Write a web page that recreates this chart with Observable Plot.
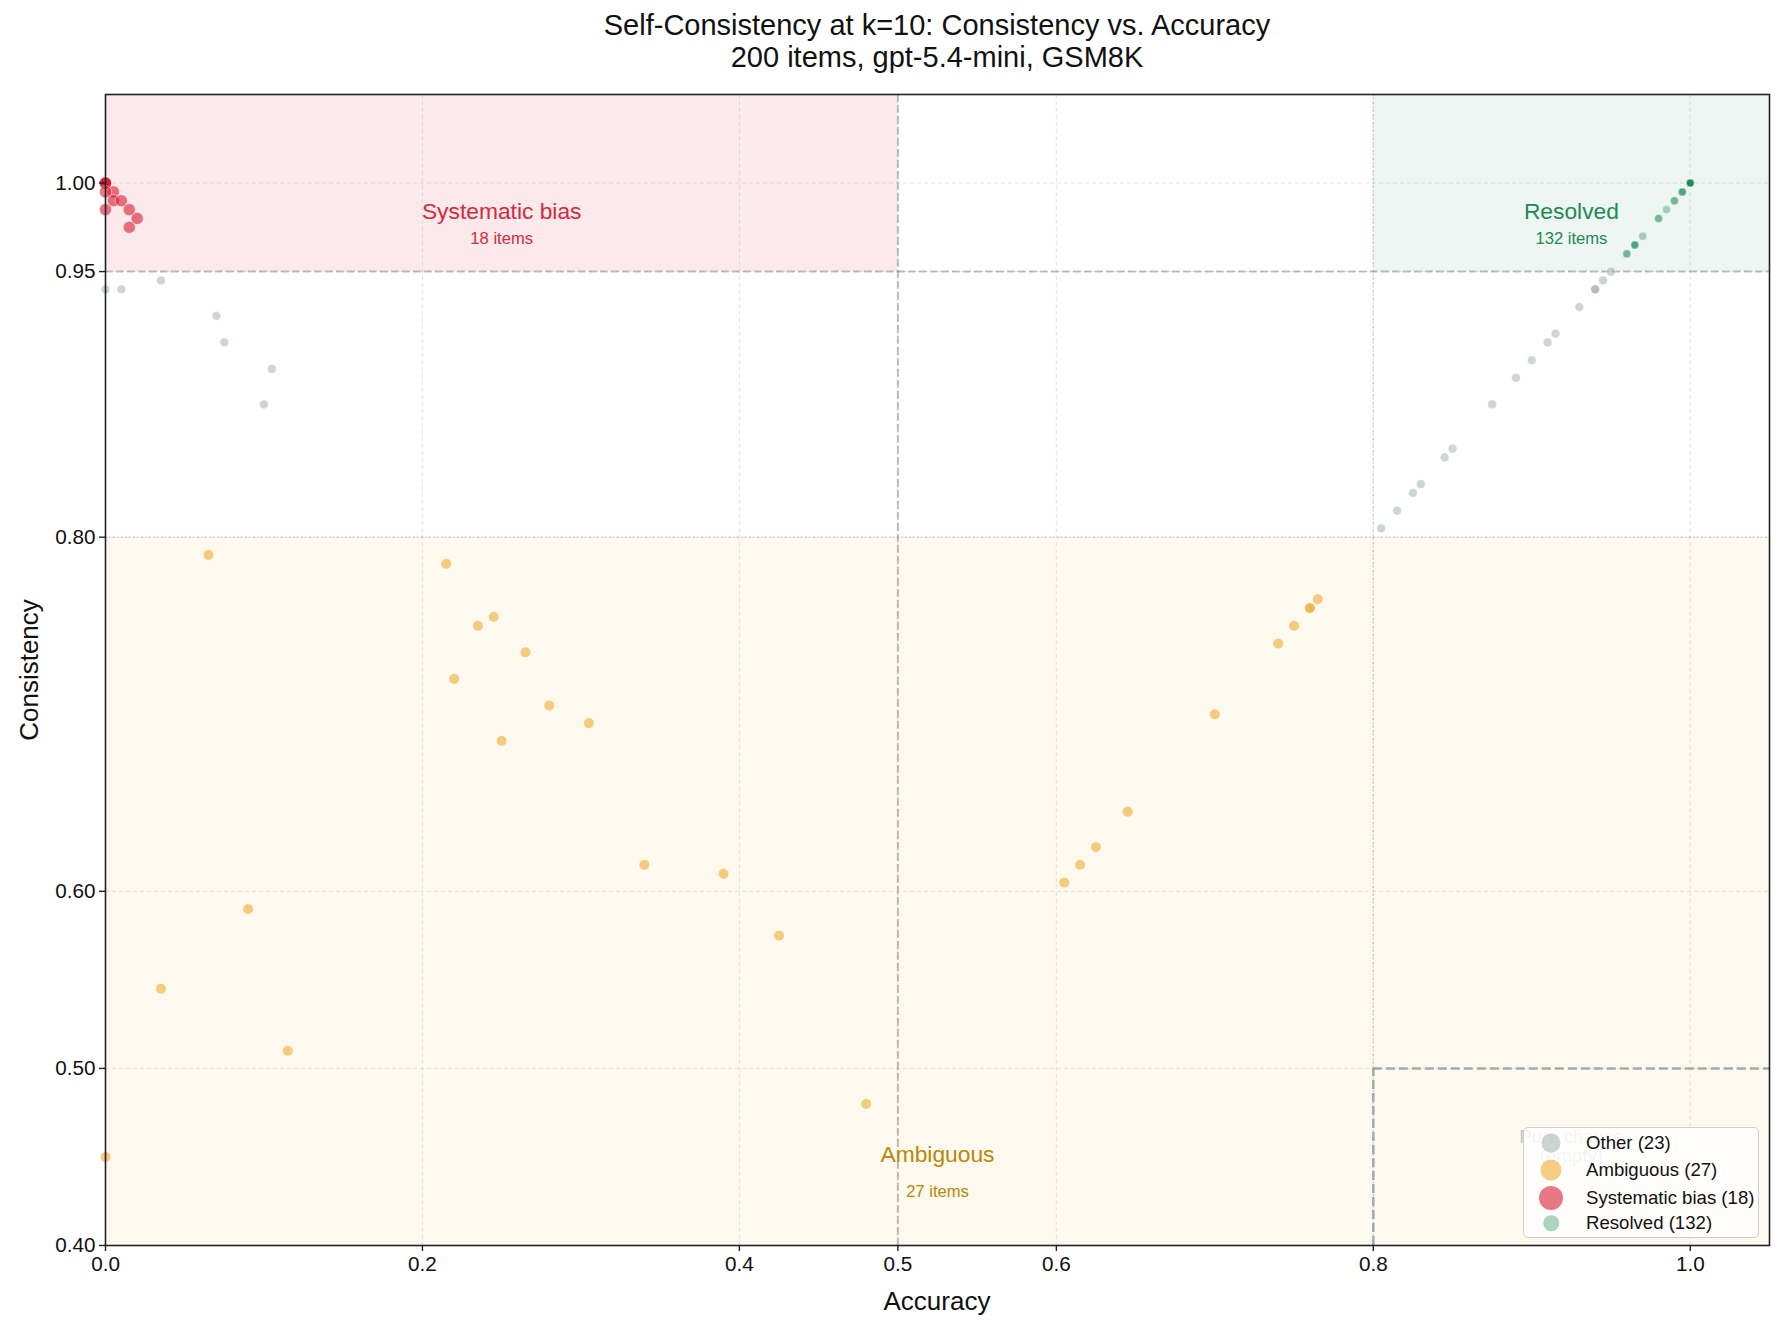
<!DOCTYPE html>
<html>
<head>
<meta charset="utf-8">
<script src="https://cdn.jsdelivr.net/npm/d3@7"></script>
<script src="https://cdn.jsdelivr.net/npm/@observablehq/plot@0.6"></script>
<style>
  body { margin: 0; background: #fff; }
  #wrap { position: relative; width: 1785px; height: 1332px; overflow: hidden;
          font-family: "Liberation Sans", Arial, Helvetica, sans-serif; color: #111; }
  #title { position: absolute; left: 105px; width: 1664px; top: 9px; text-align: center;
           font-size: 29px; line-height: 32px; }
  #chart { position: absolute; left: 0; top: 70px; }
  #xlabel { position: absolute; left: 105px; width: 1664px; top: 1286px; text-align: center;
            font-size: 26px; line-height: 30px; }
  #ylabel { position: absolute; left: 29px; top: 670px; font-size: 26px; line-height: 30px;
            transform: translate(-50%, -50%) rotate(-90deg); white-space: nowrap; }
  #legend { position: absolute; left: 1523px; top: 1127px; width: 234px; height: 109px;
            background: rgba(255,255,255,0.8); border: 1.5px solid #cfcfcf; border-radius: 5px; }
  .row { position: absolute; left: 0; height: 26px; width: 100%; }
  .mk { position: absolute; border-radius: 50%; transform: translate(-50%, -50%); top: 13px; left: 27px; }
  .lt { position: absolute; left: 62px; top: 0; line-height: 26px; font-size: 18.6px; color: #111; white-space: nowrap; }
</style>
</head>
<body>
<div id="wrap">
  <div id="title"></div>
  <div id="chart"></div>
  <div id="xlabel"></div>
  <div id="ylabel"></div>
  <div id="legend"></div>
</div>
<script>
// ---------------- data ----------------
const titleLines = ["Self-Consistency at k=10: Consistency vs. Accuracy", "200 items, gpt-5.4-mini, GSM8K"];
const xLabel = "Accuracy";
const yLabel = "Consistency";

const xTicks = [0, 0.2, 0.4, 0.5, 0.6, 0.8, 1.0];
const xTickLabels = ["0.0", "0.2", "0.4", "0.5", "0.6", "0.8", "1.0"];
const yTicks = [0.40, 0.50, 0.60, 0.80, 0.95, 1.00];
const yTickLabels = ["0.40", "0.50", "0.60", "0.80", "0.95", "1.00"];

// thresholds
const ACC_BIAS_MAX = 0.5;
const ACC_RES_MIN = 0.8;
const CONS_HIGH = 0.95;
const CONS_AMBIG_MAX = 0.80;
const CONS_CHANCE_MAX = 0.50;
const X_MAX = 1.05, Y_MIN = 0.40, Y_MAX = 1.05;

// Other (23)
const otherAcc  = [0, 0.01, 0.035, 0.07, 0.075, 0.105, 0.10, 0.805, 0.815, 0.825, 0.83, 0.845, 0.85, 0.875, 0.89, 0.90, 0.91, 0.915, 0.93, 0.94, 0.94, 0.945, 0.95];
const otherCons = [0.94, 0.94, 0.945, 0.925, 0.91, 0.895, 0.875, 0.805, 0.815, 0.825, 0.83, 0.845, 0.85, 0.875, 0.89, 0.90, 0.91, 0.915, 0.93, 0.94, 0.94, 0.945, 0.95];

// Ambiguous (27)
const ambAcc  = [0.065, 0.215, 0.235, 0.245, 0.265, 0.22, 0.28, 0.305, 0.25, 0.34, 0.39, 0.425, 0.09, 0.035, 0.115, 0.48, 0, 0.605, 0.615, 0.625, 0.645, 0.70, 0.74, 0.75, 0.76, 0.76, 0.765];
const ambCons = [0.79, 0.785, 0.75, 0.755, 0.735, 0.72, 0.705, 0.695, 0.685, 0.615, 0.61, 0.575, 0.59, 0.545, 0.51, 0.48, 0.45, 0.605, 0.615, 0.625, 0.645, 0.70, 0.74, 0.75, 0.76, 0.76, 0.765];

// Systematic bias (18): unique positions and item counts
const biasAcc   = [0, 0.005, 0, 0.005, 0.01, 0, 0.015, 0.02, 0.015];
const biasCons  = [1.0, 0.995, 0.995, 0.99, 0.99, 0.985, 0.985, 0.98, 0.975];
const biasCount = [10, 1, 1, 1, 1, 1, 1, 1, 1];

// Resolved (132): unique positions and item counts
const resAcc   = [0.96, 0.965, 0.97, 0.98, 0.985, 0.99, 0.995, 1.0];
const resCons  = [0.96, 0.965, 0.97, 0.98, 0.985, 0.99, 0.995, 1.0];
const resCount = [2, 3, 1, 2, 1, 2, 3, 118];

const categories = ["Other", "Ambiguous", "Systematic bias", "Resolved"];
const categoryCounts = [23, 27, 18, 132];

// ---------------- build tables ----------------
const rowsFrom = (xs, ys, ns) => {
  const out = [];
  xs.forEach((x, i) => { const n = ns ? ns[i] : 1; for (let k = 0; k < n; k++) out.push({acc: x, cons: ys[i]}); });
  return out;
};
const otherRows = rowsFrom(otherAcc, otherCons);
const ambRows = rowsFrom(ambAcc, ambCons);
const biasRows = rowsFrom(biasAcc, biasCons, biasCount);
const resRows = rowsFrom(resAcc, resCons, resCount);

// ---------------- styles ----------------
const FONT = '"Liberation Sans", Arial, Helvetica, sans-serif';
const C_OTHER = "#95a5a6", A_OTHER = 0.47, R_OTHER = 4.4;
const C_AMB = "#e9ac30", A_AMB = 0.6, R_AMB = 5.3;
const C_BIAS = "#d81b32", A_BIAS = 0.6, R_BIAS = 6.1;
const C_RES = "#1e8a5a", A_RES = 0.37, R_RES = 4.0;
const T_BIAS = "#d42a3c", T_RES = "#1e8a55", T_AMB = "#b8860b";

document.getElementById("title").innerHTML = titleLines.join("<br>");
document.getElementById("xlabel").textContent = xLabel;
document.getElementById("ylabel").textContent = yLabel;

const dotOpts = (c, a, r) => ({x: "acc", y: "cons", r, fill: c, fillOpacity: a, stroke: "white", strokeWidth: 0.8, strokeOpacity: a});

const chart = Plot.plot({
  width: 1785,
  height: 1262,
  marginLeft: 105,
  marginRight: 16,
  marginTop: 24,
  marginBottom: 87,
  style: {fontFamily: FONT, background: "transparent", overflow: "visible"},
  x: {domain: [0, X_MAX], axis: null},
  y: {domain: [Y_MIN, Y_MAX], axis: null},
  marks: [
    // region backgrounds
    Plot.rect([{x1: 0, x2: ACC_BIAS_MAX, y1: CONS_HIGH, y2: Y_MAX}], {x1: "x1", x2: "x2", y1: "y1", y2: "y2", fill: "#dc2638", fillOpacity: 0.1}),
    Plot.rect([{x1: ACC_RES_MIN, x2: X_MAX, y1: CONS_HIGH, y2: Y_MAX}], {x1: "x1", x2: "x2", y1: "y1", y2: "y2", fill: C_RES, fillOpacity: 0.08}),
    Plot.rect([{x1: 0, x2: X_MAX, y1: Y_MIN, y2: CONS_AMBIG_MAX}], {x1: "x1", x2: "x2", y1: "y1", y2: "y2", fill: "#f0b429", fillOpacity: 0.08}),
    // grid
    Plot.gridX({ticks: xTicks, stroke: "#999", strokeOpacity: 0.25, strokeWidth: 1, strokeDasharray: "4,3"}),
    Plot.gridY({ticks: yTicks, stroke: "#999", strokeOpacity: 0.25, strokeWidth: 1, strokeDasharray: "4,3"}),
    // threshold lines
    Plot.ruleX([ACC_RES_MIN], {stroke: "gray", strokeOpacity: 0.35, strokeWidth: 1.5, strokeDasharray: "1.5,2.5"}),
    Plot.ruleY([CONS_AMBIG_MAX], {stroke: "gray", strokeOpacity: 0.35, strokeWidth: 1.5, strokeDasharray: "1.5,2.5"}),
    Plot.ruleY([CONS_HIGH], {stroke: "gray", strokeOpacity: 0.5, strokeWidth: 2, strokeDasharray: "7.7,3.3"}),
    Plot.ruleX([ACC_BIAS_MAX], {stroke: "gray", strokeOpacity: 0.5, strokeWidth: 2, strokeDasharray: "7.7,3.3"}),
    // pure chance box (top and left edges; the others lie on the frame)
    Plot.ruleY([CONS_CHANCE_MAX], {x1: ACC_RES_MIN, x2: X_MAX, stroke: "#95a5a6", strokeOpacity: 0.9, strokeWidth: 2.5, strokeDasharray: "9,4"}),
    Plot.ruleX([ACC_RES_MIN], {y1: Y_MIN, y2: CONS_CHANCE_MAX, stroke: "#95a5a6", strokeOpacity: 0.9, strokeWidth: 2.5, strokeDasharray: "9,4"}),
    Plot.text(["Pure chance\n(empty)"], {x: () => (ACC_RES_MIN + X_MAX) / 2, y: () => 0.456, text: d => d, fill: "#95a5a6", fillOpacity: 0.6, fontSize: 18.6, lineHeight: 1.0, textAnchor: "middle"}),
    // points
    Plot.dot(otherRows, dotOpts(C_OTHER, A_OTHER, R_OTHER)),
    Plot.dot(ambRows, dotOpts(C_AMB, A_AMB, R_AMB)),
    Plot.dot(biasRows, dotOpts(C_BIAS, A_BIAS, R_BIAS)),
    Plot.dot(resRows, dotOpts(C_RES, A_RES, R_RES)),
    // region labels
    Plot.text([categories[2]], {x: () => ACC_BIAS_MAX / 2, y: () => 0.984, text: d => d, fill: T_BIAS, fontSize: 22.8, textAnchor: "middle"}),
    Plot.text([`${categoryCounts[2]} items`], {x: () => ACC_BIAS_MAX / 2, y: () => 0.9685, text: d => d, fill: T_BIAS, fontSize: 16.6, textAnchor: "middle"}),
    Plot.text([categories[3]], {x: () => (ACC_RES_MIN + X_MAX) / 2, y: () => 0.984, text: d => d, fill: T_RES, fontSize: 22.8, textAnchor: "middle"}),
    Plot.text([`${categoryCounts[3]} items`], {x: () => (ACC_RES_MIN + X_MAX) / 2, y: () => 0.9685, text: d => d, fill: T_RES, fontSize: 16.6, textAnchor: "middle"}),
    Plot.text([categories[1]], {x: () => X_MAX / 2, y: () => 0.451, text: d => d, fill: T_AMB, fontSize: 22.8, textAnchor: "middle"}),
    Plot.text([`${categoryCounts[1]} items`], {x: () => X_MAX / 2, y: () => 0.4305, text: d => d, fill: T_AMB, fontSize: 16.6, textAnchor: "middle"}),
    // axes
    Plot.axisX({ticks: xTicks, tickFormat: d => xTickLabels[xTicks.indexOf(d)], tickSize: 6, tickPadding: 5, fontSize: 20.7, label: null, stroke: "#222", strokeWidth: 1.4, fill: "#111"}),
    Plot.axisY({ticks: yTicks, tickFormat: d => yTickLabels[yTicks.indexOf(d)], tickSize: 6, tickPadding: 4, fontSize: 20.7, label: null, stroke: "#222", strokeWidth: 1.4, fill: "#111"}),
    Plot.frame({stroke: "#222", strokeWidth: 1.6})
  ]
});
document.getElementById("chart").appendChild(chart);

// legend
const legendColors = [[C_OTHER, A_OTHER, 19], [C_AMB, A_AMB, 21], [C_BIAS, A_BIAS, 24], [C_RES, A_RES, 15.5]];
const rowTops = [2, 29, 57, 82];
const lg = document.getElementById("legend");
categories.forEach((c, i) => {
  const row = document.createElement("div");
  row.className = "row";
  row.style.top = rowTops[i] + "px";
  const mk = document.createElement("div");
  mk.className = "mk";
  const [col, a, d] = legendColors[i];
  const rgb = d3.rgb(col);
  mk.style.width = d + "px";
  mk.style.height = d + "px";
  mk.style.background = `rgba(${rgb.r},${rgb.g},${rgb.b},${a})`;
  const lt = document.createElement("div");
  lt.className = "lt";
  lt.textContent = `${c} (${categoryCounts[i]})`;
  row.appendChild(mk);
  row.appendChild(lt);
  lg.appendChild(row);
});
</script>
</body>
</html>
